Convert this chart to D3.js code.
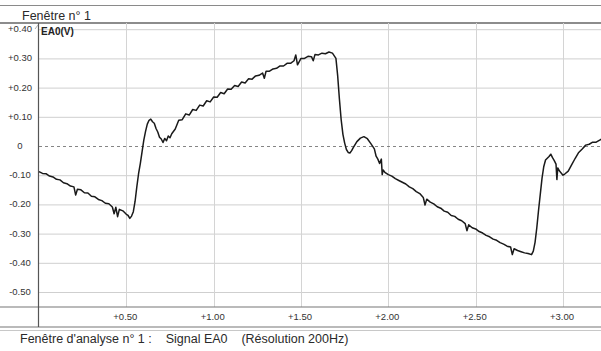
<!DOCTYPE html>
<html>
<head>
<meta charset="utf-8">
<script src="https://cdn.jsdelivr.net/npm/d3@7"></script>
<style>
  body { margin: 0; background: #fff; }
  svg { display: block; font-family: "Liberation Sans", Arial, sans-serif; }
</style>
</head>
<body>
<svg id="chart" width="601" height="351"></svg>
<script>
// signal EA0 (time in s, voltage in V)
const time = [
  0.00, 0.02, 0.04, 0.06, 0.08, 0.10, 0.12, 0.14, 0.16, 0.18, 0.20, 0.21, 0.22, 0.24, 0.26, 0.28,
  0.30, 0.32, 0.34, 0.36, 0.38, 0.40, 0.42, 0.43, 0.44, 0.45, 0.46, 0.48, 0.50, 0.51, 0.52, 0.53,
  0.54, 0.55, 0.56, 0.57, 0.58, 0.59, 0.60, 0.61, 0.62, 0.63, 0.64, 0.65, 0.66, 0.67, 0.68, 0.69,
  0.70, 0.71, 0.72, 0.73, 0.74, 0.75, 0.76, 0.78, 0.80, 0.82, 0.84, 0.86, 0.88, 0.90, 0.92, 0.94,
  0.96, 0.98, 1.00, 1.02, 1.04, 1.06, 1.08, 1.10, 1.12, 1.14, 1.16, 1.18, 1.20, 1.22, 1.24, 1.26,
  1.28, 1.29, 1.30, 1.32, 1.34, 1.36, 1.38, 1.40, 1.42, 1.44, 1.46, 1.47, 1.48, 1.50, 1.52, 1.54,
  1.56, 1.57, 1.58, 1.60, 1.62, 1.64, 1.66, 1.68, 1.70, 1.71, 1.72, 1.73, 1.74, 1.75, 1.76, 1.77,
  1.78, 1.79, 1.80, 1.82, 1.84, 1.86, 1.88, 1.90, 1.92, 1.93, 1.94, 1.95, 1.96, 1.965, 1.97, 1.98,
  2.00, 2.02, 2.04, 2.06, 2.08, 2.10, 2.12, 2.14, 2.16, 2.18, 2.20, 2.21, 2.22, 2.24, 2.26, 2.28,
  2.30, 2.32, 2.34, 2.36, 2.38, 2.40, 2.42, 2.44, 2.45, 2.46, 2.48, 2.50, 2.52, 2.54, 2.56, 2.58,
  2.60, 2.62, 2.64, 2.66, 2.68, 2.70, 2.71, 2.72, 2.74, 2.76, 2.78, 2.80, 2.82, 2.83, 2.84, 2.85,
  2.86, 2.87, 2.88, 2.89, 2.90, 2.92, 2.93, 2.94, 2.95, 2.96, 2.965, 2.97, 2.98, 3.00, 3.01, 3.03,
  3.05, 3.07, 3.09, 3.11, 3.13, 3.15, 3.17, 3.19, 3.21, 3.22
];
const ea0 = [
  -0.088, -0.094, -0.095, -0.103, -0.106, -0.114, -0.116, -0.126, -0.129, -0.137, -0.140, -0.168, -0.148, -0.150, -0.160, -0.161,
  -0.172, -0.174, -0.183, -0.187, -0.196, -0.198, -0.209, -0.232, -0.210, -0.242, -0.217, -0.222, -0.234, -0.238, -0.248, -0.240,
  -0.225, -0.190, -0.140, -0.095, -0.060, -0.020, 0.020, 0.050, 0.075, 0.088, 0.092, 0.083, 0.078, 0.060, 0.048, 0.030,
  0.024, 0.012, 0.026, 0.018, 0.034, 0.028, 0.042, 0.058, 0.088, 0.090, 0.110, 0.106, 0.125, 0.122, 0.140, 0.137,
  0.155, 0.151, 0.168, 0.167, 0.183, 0.179, 0.195, 0.194, 0.207, 0.204, 0.219, 0.216, 0.230, 0.229, 0.240, 0.242,
  0.250, 0.232, 0.256, 0.256, 0.264, 0.266, 0.274, 0.274, 0.283, 0.283, 0.292, 0.312, 0.278, 0.300, 0.300, 0.307,
  0.306, 0.292, 0.313, 0.312, 0.318, 0.316, 0.322, 0.318, 0.300, 0.240, 0.160, 0.090, 0.040, 0.010, -0.012, -0.022,
  -0.024, -0.016, -0.005, 0.015, 0.027, 0.032, 0.025, 0.008, -0.010, -0.035, -0.045, -0.060, -0.045, -0.098, -0.082, -0.090,
  -0.098, -0.103, -0.112, -0.118, -0.124, -0.130, -0.140, -0.146, -0.156, -0.163, -0.176, -0.202, -0.182, -0.192, -0.198, -0.208,
  -0.213, -0.223, -0.227, -0.238, -0.241, -0.251, -0.256, -0.266, -0.290, -0.270, -0.280, -0.284, -0.293, -0.298, -0.306, -0.311,
  -0.319, -0.323, -0.331, -0.336, -0.343, -0.346, -0.372, -0.352, -0.358, -0.362, -0.366, -0.368, -0.372, -0.360, -0.330, -0.280,
  -0.220, -0.165, -0.110, -0.070, -0.048, -0.036, -0.028, -0.040, -0.050, -0.062, -0.115, -0.075, -0.086, -0.100, -0.096, -0.086,
  -0.064, -0.042, -0.022, -0.010, 0.003, 0.006, 0.013, 0.013, 0.020, 0.024
];
const yTicks = [0.4, 0.3, 0.2, 0.1, 0, -0.1, -0.2, -0.3, -0.4, -0.5];
const xTicks = [0.5, 1.0, 1.5, 2.0, 2.5, 3.0];

const svg = d3.select("#chart");
const plotLeft = 39, plotRight = 601, plotTop = 23, plotBottom = 307;

const x = d3.scaleLinear().domain([0, 3.0]).range([plotLeft, 563]);
const y = d3.scaleLinear().domain([0, 0.4]).range([146, 29.2]);

function fmt(v) {
    if (Math.abs(v) < 1e-9) return "0";
    return (v > 0 ? "+" : "-") + Math.abs(v).toFixed(2);
}

// frame / header
svg.append("line").attr("x1", 0).attr("x2", plotRight).attr("y1", 5.5).attr("y2", 5.5)
    .attr("stroke", "#8a8a8a").attr("stroke-width", 1);
svg.append("line").attr("x1", 0).attr("x2", plotRight).attr("y1", plotTop).attr("y2", plotTop)
    .attr("stroke", "#666").attr("stroke-width", 1.5);
svg.append("text").attr("x", 22).attr("y", 19.5)
    .attr("font-size", 12.5).attr("fill", "#2a2a2a").text("Fenêtre n° 1");

// horizontal grid
svg.append("g").selectAll("line")
    .data(yTicks.filter(d => d !== 0))
    .enter().append("line")
    .attr("x1", plotLeft).attr("x2", plotRight)
    .attr("y1", d => y(d) + 0.5).attr("y2", d => y(d) + 0.5)
    .attr("stroke", "#cfcfcf").attr("stroke-width", 1);

// vertical grid
svg.append("g").selectAll("line")
    .data(xTicks)
    .enter().append("line")
    .attr("x1", d => Math.round(x(d)) + 0.5).attr("x2", d => Math.round(x(d)) + 0.5)
    .attr("y1", plotTop).attr("y2", plotBottom)
    .attr("stroke", "#d4d4d4").attr("stroke-width", 1);

// zero line
svg.append("line").attr("x1", plotLeft).attr("x2", plotRight)
    .attr("y1", y(0) + 0.5).attr("y2", y(0) + 0.5)
    .attr("stroke", "#666").attr("stroke-width", 0.8).attr("stroke-dasharray", "3,3");

// y labels
svg.append("g").selectAll("text")
    .data(yTicks)
    .enter().append("text")
    .attr("x", 20).attr("y", d => y(d) + 3)
    .attr("text-anchor", "middle").attr("font-size", 9.5).attr("fill", "#333")
    .text(fmt);

// x axis band
svg.append("line").attr("x1", 0).attr("x2", plotRight).attr("y1", plotBottom).attr("y2", plotBottom)
    .attr("stroke", "#777").attr("stroke-width", 1.2);
svg.append("line").attr("x1", 0).attr("x2", plotRight).attr("y1", 327).attr("y2", 327)
    .attr("stroke", "#777").attr("stroke-width", 1.2);
svg.append("line").attr("x1", 0).attr("x2", plotRight).attr("y1", 330.5).attr("y2", 330.5)
    .attr("stroke", "#c8c8c8").attr("stroke-width", 1);
svg.append("g").selectAll("text")
    .data(xTicks)
    .enter().append("text")
    .attr("x", d => x(d) - 1).attr("y", 320)
    .attr("text-anchor", "middle").attr("font-size", 9.5).attr("fill", "#333")
    .text(fmt);

// y axis line
svg.append("line").attr("x1", plotLeft - 0.5).attr("x2", plotLeft - 0.5).attr("y1", plotTop).attr("y2", 327)
    .attr("stroke", "#555").attr("stroke-width", 1.2);
svg.append("line").attr("x1", 35).attr("x2", 38).attr("y1", 29).attr("y2", 25)
    .attr("stroke", "#999").attr("stroke-width", 0.8);

svg.append("text").attr("x", 41).attr("y", 35)
    .attr("font-size", 10).attr("font-weight", "bold").attr("fill", "#222").text("EA0(V)");

// signal
const pts = time.map((t, i) => [t, ea0[i]]);
const line = d3.line().x(d => x(d[0])).y(d => y(d[1]));
svg.append("path").datum(pts)
    .attr("d", line)
    .attr("fill", "none").attr("stroke", "#1a1a1a").attr("stroke-width", 1.5)
    .attr("stroke-linejoin", "round");

// footer
svg.append("text").attr("x", 20).attr("y", 343)
    .attr("font-size", 12.5).attr("fill", "#2a2a2a").attr("xml:space", "preserve")
    .text("Fenêtre d'analyse n° 1 :    Signal EA0    (Résolution 200Hz)");
</script>
</body>
</html>
